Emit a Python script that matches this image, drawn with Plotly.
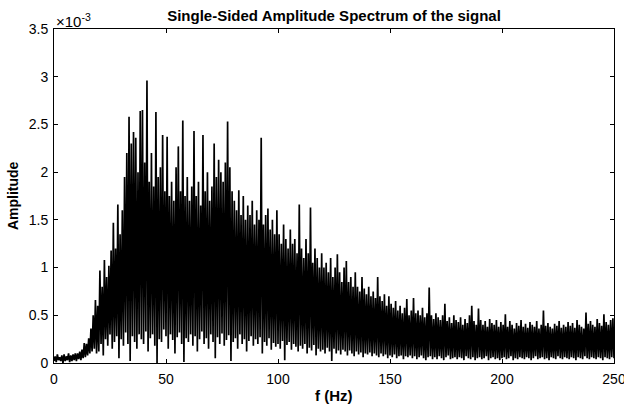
import numpy as np
import plotly.graph_objects as go

# Frequency grid step (Hz); values are in units of 1e-3 (axis multiplier shown as x10^-3)
F_STEP = 0.5

# local minima of the spectrum at f = 0, 1, 2, ..., 250 Hz
troughs = [
    0.02, 0.01, 0.03, 0.02, 0.0, 0.02, 0.03, 0.01, 0.02, 0.03, 0.02, 0.04, 0.03, 0.05, 0.06, 0.08,
    0.1, 0.12, 0.15, 0.1,
    0.12, 0.2, 0.08, 0.25, 0.18, 0.3, 0.15, 0.22, 0.28, 0.05,
    0.25, 0.18, 0.32, 0.2, 0.02, 0.28, 0.22, 0.15, 0.3, 0.25,
    0.2, 0.33, 0.12, 0.26, 0.3, 0.18, 0.0, 0.25, 0.22, 0.35,
    0.28, 0.15, 0.3, 0.24, 0.1, 0.27, 0.32, 0.2, 0.01, 0.26,
    0.22, 0.3, 0.18, 0.28, 0.12, 0.25, 0.33, 0.2, 0.26, 0.15,
    0.3, 0.22, 0.05, 0.27, 0.2, 0.31, 0.18, 0.24, 0.29, 0.02,
    0.22, 0.26, 0.15, 0.3, 0.2, 0.25, 0.12, 0.23, 0.28, 0.18,
    0.25, 0.2, 0.27, 0.1, 0.22, 0.18, 0.26, 0.14, 0.21, 0.17,
    0.2, 0.15, 0.23, 0.03, 0.19, 0.22, 0.14, 0.2, 0.17, 0.12,
    0.18, 0.15, 0.2, 0.1, 0.16, 0.13, 0.19, 0.08, 0.15, 0.12,
    0.14, 0.1, 0.16, 0.12, 0.02, 0.15, 0.1, 0.13, 0.09, 0.14,
    0.12, 0.08, 0.13, 0.1, 0.07, 0.12, 0.09, 0.11, 0.06, 0.1,
    0.09, 0.11, 0.07, 0.1, 0.08, 0.06, 0.1, 0.07, 0.09, 0.05,
    0.08, 0.06, 0.09, 0.05, 0.07, 0.08, 0.04, 0.07, 0.06, 0.08,
    0.05, 0.07, 0.04, 0.06, 0.08, 0.05, 0.03, 0.06, 0.07, 0.04,
    0.06, 0.04, 0.07, 0.05, 0.03, 0.06, 0.08, 0.04, 0.05, 0.06,
    0.04, 0.06, 0.05, 0.03, 0.07, 0.05, 0.04, 0.06, 0.03, 0.05,
    0.06, 0.04, 0.05, 0.07, 0.03, 0.05, 0.06, 0.04, 0.05, 0.03,
    0.05, 0.06, 0.04, 0.05, 0.07, 0.03, 0.05, 0.04, 0.06, 0.05,
    0.04, 0.06, 0.05, 0.03, 0.05, 0.07, 0.04, 0.05, 0.06, 0.04,
    0.05, 0.03, 0.06, 0.05, 0.04, 0.07, 0.05, 0.04, 0.06, 0.05,
    0.04, 0.06, 0.05, 0.03, 0.06, 0.05, 0.04, 0.07, 0.05, 0.04,
    0.06, 0.05, 0.04, 0.06, 0.05, 0.03, 0.06, 0.05, 0.04, 0.06, 0.05,
]

# local maxima of the spectrum at f = 0.5, 1.5, ..., 249.5 Hz
peaks = [
    0.07, 0.09, 0.06, 0.08, 0.09, 0.07, 0.1, 0.08, 0.09, 0.1,
    0.1, 0.12, 0.14, 0.21, 0.2, 0.26, 0.36, 0.5, 0.66, 0.6,
    0.97, 0.8, 1.08, 0.9, 1.02, 1.18, 1.47, 1.2, 1.66, 1.35,
    1.6, 1.95, 2.2, 2.58, 2.3, 2.42, 2.36, 2.0, 2.64, 2.65,
    2.1, 2.96, 1.9, 2.2, 1.85, 2.63, 1.95, 2.05, 2.39, 1.8,
    2.37, 1.75, 1.9, 1.7, 2.05, 2.27, 1.8, 2.54, 1.75, 1.95,
    1.7, 1.85, 2.43, 1.75, 1.9, 1.65, 2.39, 1.8, 2.0, 1.7,
    1.85, 2.3, 1.95, 2.13, 2.0, 1.9, 2.1, 2.53, 2.05, 1.8,
    1.7, 1.6, 1.81, 1.55, 1.75, 1.5, 1.65, 1.55, 1.7, 1.45,
    1.6, 1.5, 2.36, 1.45, 1.55, 1.62, 1.4, 1.5, 1.35, 1.6,
    1.35, 1.25, 1.45, 1.3, 1.2, 1.4, 1.25, 1.3, 1.15, 1.66,
    1.2, 1.1, 1.3, 1.15, 1.63, 1.05, 1.2, 1.1, 1.0, 1.15,
    1.0, 1.05, 0.95, 1.1, 0.9, 1.0, 1.14, 0.95, 0.85, 1.0,
    1.07, 0.85, 0.9, 0.8, 0.95, 0.8, 0.75, 0.9, 0.78, 0.72,
    0.8, 0.7, 0.75, 0.68, 0.9, 0.7, 0.65, 0.72, 0.6, 0.7,
    0.62, 0.58, 0.65, 0.55, 0.6, 0.52, 0.58, 0.67, 0.5, 0.55,
    0.68, 0.52, 0.55, 0.5, 0.58, 0.48, 0.52, 0.79, 0.5, 0.46,
    0.52, 0.48, 0.45, 0.5, 0.62, 0.44, 0.48, 0.42, 0.5, 0.45,
    0.43, 0.48, 0.4, 0.46, 0.42, 0.5, 0.6, 0.44, 0.4, 0.57,
    0.45, 0.4, 0.44, 0.38, 0.46, 0.42, 0.4, 0.45, 0.38, 0.43,
    0.4, 0.51, 0.38, 0.44, 0.4, 0.36, 0.42, 0.39, 0.45, 0.38,
    0.41, 0.37, 0.43, 0.4, 0.38, 0.44, 0.36, 0.4, 0.55, 0.39,
    0.42, 0.38, 0.36, 0.41, 0.39, 0.44, 0.37, 0.4, 0.38, 0.43,
    0.39, 0.42, 0.37, 0.45, 0.4, 0.38, 0.36, 0.53, 0.41, 0.44,
    0.4, 0.38, 0.46, 0.42, 0.39, 0.51, 0.43, 0.4, 0.45, 0.47,
]

x_ticks = [0, 50, 100, 150, 200, 250]
y_ticks = [0, 0.5, 1, 1.5, 2, 2.5, 3, 3.5]

amp = []
for i in range(len(peaks)):
    amp.append(troughs[i])
    amp.append(peaks[i])
amp.append(troughs[len(peaks)])
freq = np.arange(len(amp)) * F_STEP

FONT = "Liberation Sans, Arial, sans-serif"

fig = go.Figure(
    go.Scatter(x=freq, y=amp, mode="lines",
               line=dict(color="black", width=1.7), hoverinfo="skip")
)

axis_common = dict(
    showgrid=False, zeroline=False, showline=True, linecolor="black", linewidth=1,
    mirror="ticks", ticks="inside", ticklen=4, tickcolor="black", tickwidth=1,
    tickfont=dict(family=FONT, size=14, color="black"), automargin=False,
    ticklabeloverflow="allow",
)

fig.update_layout(
    width=624, height=412,
    margin=dict(l=54, r=10, t=29, b=49),
    paper_bgcolor="white", plot_bgcolor="white",
    showlegend=False,
    title=dict(text="Single-Sided Amplitude Spectrum of the signal",
               x=0.5, xref="paper", xanchor="center",
               y=1 - 16 / 412, yref="container", yanchor="middle",
               font=dict(family=FONT, size=15, color="black", weight="bold")),
    xaxis=dict(range=[0, 250], tickvals=x_ticks, ticklabelstandoff=3, **axis_common),
    yaxis=dict(range=[0, 3.5], tickvals=y_ticks, ticklabelstandoff=2, **axis_common),
    annotations=[
        dict(text="×10<sup>-3</sup>", x=0, y=1, xref="paper", yref="paper",
             xanchor="left", yanchor="bottom", showarrow=False, yshift=-3,
             font=dict(family=FONT, size=15, color="black")),
        dict(text="f (Hz)", x=0.5, y=-0.096, xref="paper", yref="paper",
             xanchor="center", yanchor="middle", showarrow=False,
             font=dict(family=FONT, size=15, color="black", weight="bold")),
        dict(text="Amplitude", x=-0.073, y=0.5, xref="paper", yref="paper",
             xanchor="center", yanchor="middle", showarrow=False, textangle=-90,
             font=dict(family=FONT, size=14, color="black", weight="bold")),
    ],
)

fig.write_html("out.html", config={"displayModeBar": False},
               post_script="document.body.style.margin='0';document.body.style.overflow='hidden';")
